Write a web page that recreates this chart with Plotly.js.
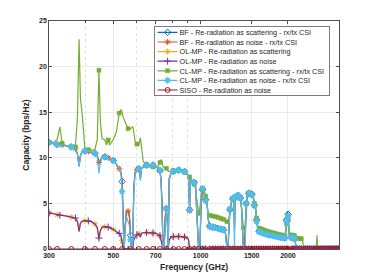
<!DOCTYPE html>
<html>
<head>
<meta charset="utf-8">
<script src="https://cdn.plot.ly/plotly-3.0.1.min.js"></script>
<style>
  html, body { margin: 0; padding: 0; background: #fff; }
  #chart { width: 374px; height: 280px; }
</style>
</head>
<body>
<div id="chart"></div>
<script>
// ---------------- data ----------------
var freqGHz = [
  300,310,320,327,333,345,358,370,376,381,
  385,390,399,410,420,432,440,446,451,457,
  467,474,480,486,500,512,524,531,536,541,
  545,549,555,562,568,573,578,583,588,594,
  603,612,620,625,634,651,668,685,700,715,
  724,730,736,742,748,755,762,768,773,779,
  790,805,820,840,860,880,900,908,916,922,
  935,950,960,968,976,984,994,1004,1015,1028,
  1040,1052,1063,1075,1100,1125,1150,1175,1200,1214,
  1222,1232,1242,1252,1262,1276,1290,1302,1308,1315,
  1330,1345,1360,1372,1383,1395,1405,1415,1425,1435,
  1448,1465,1485,1502,1518,1532,1546,1560,1575,1590,
  1620,1650,1680,1710,1740,1770,1800,1830,1860,1890,
  1920,1950,1965,1978,1990,2002,2012,2025,2055,2085,
  2110,2130,2160,2195,2225,2240,2270,2305,2340,2375,
  2410,2445,2480,2505,2518,2531,2555,2590,2625,2660,
  2695,2730,2765,2800,2835,2870,2905,2940,2975,3000
];

var bfScatter = [
  11.7,11.55,11.45,11.4,11.4,11.3,11.2,11.0,10.4,9.1,
  10.2,10.65,10.75,10.7,10.6,10.5,10.25,9.4,9.6,10.1,
  10.1,10.0,10.0,9.9,9.7,9.3,8.8,8.4,7.4,3.0,
  0,2.5,4.1,4.15,3.6,1.5,0,0,6.5,8.4,
  8.7,8.8,7.7,8.8,9.0,9.2,9.25,9.2,9.1,8.85,
  8.6,7.6,5.0,0,0,3.5,4.45,3.0,0,7.7,
  8.3,8.5,8.65,8.65,8.6,8.5,8.2,7.9,4.3,7.6,
  7.5,7.3,7.0,5.0,3.0,0,0,5.0,6.5,6.2,
  5.4,5.1,3.2,2.5,2.4,2.33,2.25,2.18,2.1,2.05,
  1.5,0,0,3.2,4.3,5.1,5.5,5.5,2.0,5.6,
  5.8,5.9,6.05,5.6,4.6,2.5,0,0,2.0,5.0,
  5.9,6.1,6.2,6.0,5.8,4.8,4.4,3.2,2.2,1.95,
  1.85,1.75,1.68,1.6,1.55,1.5,1.45,1.4,1.35,1.3,
  1.28,1.22,2.0,3.2,4.1,3.8,2.5,1.3,1.25,1.2,
  1.15,0.4,0,0,0,0,0,0,0,0,
  0,0,0,0,0,0,0,0,0,0,
  0,0,0,0,0,0,0,0,0,0
];

var bfNoise = [
  11.7,11.55,11.45,11.4,11.4,11.3,11.2,11.0,10.4,9.2,
  10.2,10.65,10.75,10.7,10.6,10.5,10.25,9.5,9.7,10.1,
  10.1,10.0,10.0,9.9,9.7,9.3,8.8,8.4,7.6,3.2,
  0,2.5,4.1,4.15,3.6,1.5,0,0,6.5,8.4,
  8.7,8.8,7.8,8.8,9.0,9.2,9.25,9.2,9.1,8.85,
  8.6,7.7,5.0,0,0,3.5,4.45,3.0,0,7.7,
  8.3,8.5,8.65,8.65,8.6,8.5,8.2,7.9,4.2,7.6,
  7.5,7.3,7.0,5.0,3.0,0,0,5.0,6.5,6.2,
  5.4,5.1,3.2,2.5,2.4,2.33,2.25,2.18,2.1,2.05,
  1.5,0,0,3.2,4.3,5.1,5.5,5.5,2.2,5.6,
  5.8,5.9,6.05,5.6,4.65,2.5,0,0,2.1,5.0,
  5.9,6.1,6.2,6.0,5.8,4.8,4.6,3.2,2.2,1.95,
  1.85,1.75,1.68,1.6,1.55,1.5,1.45,1.4,1.35,1.3,
  1.28,1.22,2.0,3.0,3.6,3.1,2.3,1.3,1.25,1.2,
  1.15,0.4,0,0,0,0,0,0,0,0,
  0,0,0,0,0,0,0,0,0,0,
  0,0,0,0,0,0,0,0,0,0
];

var olmpScatter = [
  3.95,3.85,3.75,3.7,3.65,3.6,3.5,3.4,3.1,2.4,
  2.9,3.05,3.1,3.08,3.0,2.75,2.2,1.0,2.0,2.4,
  2.45,2.45,2.4,2.35,2.15,1.9,1.72,1.5,0.9,0,
  0,0,0,0,0,0,0,0,1.1,1.3,
  1.55,1.7,1.3,1.72,1.78,1.8,1.78,1.75,1.72,1.6,
  1.45,1.0,0.3,0,0,0,0,0,0,1.0,
  1.3,1.35,1.38,1.38,1.36,1.32,1.2,1.06,0,0,
  0,0,0,0,0,0,0,0,0,0,
  0,0,0,0,0,0,0,0,0,0,
  0,0,0,0,0,0,0,0,0,0,
  0,0,0,0,0,0,0,0,0,0,
  0,0,0,0,0,0,0,0,0,0,
  0,0,0,0,0,0,0,0,0,0,
  0,0,0,0,0,0,0,0,0,0,
  0,0,0,0,0,0,0,0,0,0,
  0,0,0,0,0,0,0,0,0,0,
  0,0,0,0,0,0,0,0,0,0
];

var olmpNoise = [
  3.95,3.85,3.75,3.7,3.65,3.6,3.5,3.4,3.0,1.9,
  2.8,3.05,3.1,3.08,3.0,2.75,2.4,1.2,2.0,2.4,
  2.45,2.45,2.4,2.35,2.15,1.9,1.72,1.5,0.6,0,
  0,0,0,0,0,0,0,0,1.0,1.3,
  1.55,1.7,1.3,1.72,1.78,1.8,1.78,1.75,1.72,1.6,
  1.45,1.0,0.3,0,0,0,0,0,0,1.0,
  1.3,1.35,1.38,1.38,1.36,1.32,1.2,1.06,0,0,
  0,0,0,0,0,0,0,0,0,0,
  0,0,0,0,0,0,0,0,0,0,
  0,0,0,0,0,0,0,0,0,0,
  0,0,0,0,0,0,0,0,0,0,
  0,0,0,0,0,0,0,0,0,0,
  0,0,0,0,0,0,0,0,0,0,
  0,0,0,0,0,0,0,0,0,0,
  0,0,0,0,0,0,0,0,0,0,
  0,0,0,0,0,0,0,0,0,0,
  0,0,0,0,0,0,0,0,0,0
];

var clmpScatter = [
  11.7,11.65,12.0,13.4,11.6,11.3,11.2,11.2,14.5,23.0,
  16.5,15.0,11.0,10.9,10.85,10.9,12.0,19.6,14.0,12.1,
  11.95,11.4,11.95,11.4,12.0,12.8,14.9,15.3,15.0,14.4,
  14.1,13.9,13.6,13.2,13.1,13.2,13.3,13.4,12.9,11.8,
  11.5,11.4,12.2,11.0,9.6,9.2,9.0,9.0,8.9,9.1,
  9.5,9.8,9.6,9.0,8.9,8.85,8.85,8.7,8.5,8.5,
  8.5,8.6,8.66,8.6,8.5,8.4,8.2,8.0,7.9,7.8,
  7.5,7.1,6.6,5.8,4.6,3.9,4.5,6.0,6.65,6.5,
  5.8,4.5,3.8,3.7,3.62,3.55,3.45,3.35,3.25,3.2,
  3.1,3.0,2.8,3.4,4.3,5.1,5.5,5.5,5.4,5.6,
  5.8,5.9,6.05,5.6,4.6,2.8,2.3,2.2,2.4,5.0,
  5.9,6.1,6.2,6.0,5.8,5.0,4.5,3.4,2.4,2.3,
  2.2,2.1,2.0,1.92,1.85,1.78,1.72,1.66,1.6,1.55,
  1.5,1.45,1.6,2.8,3.6,3.4,2.4,1.55,1.55,1.5,
  1.45,1.2,1.17,1.15,1.12,1.1,0,0,0,0,
  0,0,0,0,1.5,0,0,0,0,0,
  0,0,0,0,0,0,0,0,0,0
];

var clmpNoise = [
  11.7,11.55,11.45,11.4,11.4,11.3,11.2,11.0,10.4,9.0,
  10.2,10.65,10.75,10.7,10.6,10.5,10.1,8.3,9.4,10.1,
  10.1,10.0,10.0,9.9,9.7,9.3,8.8,8.3,6.3,2.0,
  0,2.0,3.6,3.0,2.6,1.0,0,0,6.0,8.4,
  8.7,8.8,7.5,8.8,9.0,9.2,9.25,9.2,9.1,8.85,
  8.6,7.4,4.0,0,0,3.2,4.45,2.5,0,7.5,
  8.3,8.5,8.65,8.65,8.6,8.5,8.2,7.9,4.3,7.6,
  7.5,7.3,7.0,5.0,3.2,0,0,6.0,6.65,6.2,
  5.3,5.2,3.2,2.5,2.4,2.33,2.25,2.18,2.1,2.05,
  1.2,0,0,3.5,4.4,5.2,5.56,5.5,0,5.73,
  5.9,5.9,6.05,5.6,4.6,2.3,0,0,0,5.0,
  5.9,6.15,6.2,5.9,5.8,4.8,4.4,3.0,2.1,1.9,
  1.8,1.7,1.62,1.55,1.5,1.45,1.4,1.35,1.3,1.25,
  1.22,1.18,2.2,3.0,3.9,3.6,2.0,1.2,1.25,1.25,
  1.1,0.3,0,0,0,0,0,0,0,0,
  0,0,0,0,0,0,0,0,0,0,
  0,0,0,0,0,0,0,0,0,0
];

var sisoNoise = [
  0,0,0,0,0,0,0,0,0,0,
  0,0,0,0,0,0,0,0,0,0,
  0,0,0,0,0,0,0,0,0,0,
  0,0,0,0,0,0,0,0,0,0,
  0,0,0,0,0,0,0,0,0,0,
  0,0,0,0,0,0,0,0,0,0,
  0,0,0,0,0,0,0,0,0,0,
  0,0,0,0,0,0,0,0,0,0,
  0,0,0,0,0,0,0,0,0,0,
  0,0,0,0,0,0,0,0,0,0,
  0,0,0,0,0,0,0,0,0,0,
  0,0,0,0,0,0,0,0,0,0,
  0,0,0,0,0,0,0,0,0,0,
  0,0,0,0,0,0,0,0,0,0,
  0,0,0,0,0,0,0,0,0,0,
  0,0,0,0,0,0,0,0,0,0,
  0,0,0,0,0,0,0,0,0,0
];

var seriesNames = [
  'BF - Re-radiation as scattering - rx/tx CSI',
  'BF - Re-radiation as noise - rx/tx CSI',
  'OL-MP - Re-radiation as scattering',
  'OL-MP - Re-radiation as noise',
  'CL-MP - Re-radiation as scattering - rx/tx CSI',
  'CL-MP - Re-radiation as noise - rx/tx CSI',
  'SISO - Re-radiation as noise'
];

var xTickVals = [300, 500, 700, 1000, 1500, 2000];
var xTickLabels = ['300', '500', '700', '1000', '1500', '2000'];
var xMinorVals = [400, 600, 800, 900];
var yTickVals = [0, 5, 10, 15, 20, 25];

// ---------------- styling ----------------
var FONT = 'Liberation Sans, Arial, Helvetica, sans-serif';
var TXT = '#262626';
var CLEAR = 'rgba(0,0,0,0)';

// markers on a subset of points (about every 30 GHz), first point always marked
function markerColors(color, offset) {
  var out = [], last = freqGHz[0] - 30 + offset;
  for (var i = 0; i < freqGHz.length; i++) {
    var f = freqGHz[i];
    var gap = f < 1000 ? 33 : 24;
    if (i === 0) { out.push(color); continue; }
    if (f - last >= gap) { out.push(color); last = f; }
    else out.push(CLEAR);
  }
  return out;
}

var specs = [
  {y: bfScatter,   color: '#0072BD', symbol: 'diamond-open',    size: 5,   lw: 1,   off: 17},
  {y: bfNoise,     color: '#D95319', symbol: 'asterisk-open',   size: 5,   lw: 1,   off: 25},
  {y: olmpScatter, color: '#EDB120', symbol: 'asterisk-open',   size: 5,   lw: 1,   off: 10},
  {y: olmpNoise,   color: '#7E2F8E', symbol: 'cross-thin-open', size: 5,   lw: 1,   off: 20},
  {y: clmpScatter, color: '#77AC30', symbol: 'square',          size: 4,   lw: 0.5, off: 30},
  {y: clmpNoise,   color: '#4DBEEE', symbol: 'asterisk-open',   size: 5.5, lw: 1.3, off: 8},
  {y: sisoNoise,   color: '#A2142F', symbol: 'circle-open',     size: 5,   lw: 1,   off: 14}
];

var traces = specs.map(function (s, k) {
  var mc = markerColors(s.color, s.off);
  return {
    type: 'scatter',
    mode: 'lines+markers',
    name: seriesNames[k],
    x: freqGHz,
    y: s.y,
    line: {color: s.color, width: 1.2},
    marker: {symbol: s.symbol, size: s.size, color: mc,
             line: {color: mc, width: s.lw}},
    hoverinfo: 'skip'
  };
});

var axisCommon = {
  showline: true, linecolor: TXT, linewidth: 0.8, mirror: 'ticks',
  ticks: 'inside', ticklen: 3, tickwidth: 0.8, tickcolor: TXT,
  showgrid: true, gridcolor: '#e3e3e3', gridwidth: 0.7,
  zeroline: false, automargin: false,
  tickfont: {family: FONT, size: 7, color: TXT, weight: 'bold'}
};

var layout = {
  width: 374, height: 280,
  margin: {l: 49, r: 35, t: 21, b: 31, pad: 0},
  paper_bgcolor: '#ffffff', plot_bgcolor: '#ffffff',
  font: {family: FONT, color: TXT},
  showlegend: true,
  xaxis: Object.assign({}, axisCommon, {
    type: 'log',
    range: [Math.log10(300), Math.log10(3000)],
    tickmode: 'array', tickvals: xTickVals, ticktext: xTickLabels,
    minor: {tickmode: 'array', tickvals: xMinorVals, showgrid: true,
            gridcolor: '#cfcfcf', gridwidth: 0.6, griddash: 'dot',
            ticks: 'inside', ticklen: 2, tickcolor: TXT},
    title: {text: 'Frequency (GHz)', standoff: 5,
            font: {family: FONT, size: 8.5, color: TXT, weight: 'bold'}}
  }),
  yaxis: Object.assign({}, axisCommon, {
    range: [0, 25],
    tickmode: 'array', tickvals: yTickVals,
    title: {text: 'Capacity (bps/Hz)', standoff: 7,
            font: {family: FONT, size: 8.5, color: TXT, weight: 'bold'}}
  }),
  legend: {
    x: 0.362, xanchor: 'left', y: 0.979, yanchor: 'top',
    bgcolor: '#ffffff', bordercolor: '#262626', borderwidth: 0.6,
    font: {family: FONT, size: 7.2, color: TXT},
    itemwidth: 30, tracegroupgap: 0
  }
};

var gd = document.getElementById('chart');
Plotly.newPlot(gd, traces, layout, {staticPlot: true, displayModeBar: false}).then(function () {
  // compact the legend rows (Plotly enforces a 19px row minimum)
  var lg = gd.querySelector('g.legend');
  if (!lg) return;
  var items = lg.querySelectorAll('g.traces');
  var step = 9.6, pad = 6.6, textX = 25;
  var maxW = 0;
  items.forEach(function (it, i) {
    it.setAttribute('transform', 'translate(0.6,' + (pad + i * step) + ')');
    var ln = it.querySelectorAll('.legendlines path');
    ln.forEach(function (p) { p.setAttribute('d', 'M3,0h20'); });
    var pts = it.querySelectorAll('.legendpoints path');
    pts.forEach(function (p) { p.setAttribute('transform', 'translate(13,0)'); });
    var txt = it.querySelector('text.legendtext');
    if (txt) {
      txt.setAttribute('x', textX);
      var w = txt.getComputedTextLength ? txt.getComputedTextLength() : 0;
      if (w > maxW) maxW = w;
    }
  });
  var bg = lg.querySelector('rect.bg');
  if (bg) {
    bg.setAttribute('height', pad * 2 + (items.length - 1) * step - 1);
    bg.setAttribute('width', textX + maxW + 6);
  }
});
</script>
</body>
</html>
